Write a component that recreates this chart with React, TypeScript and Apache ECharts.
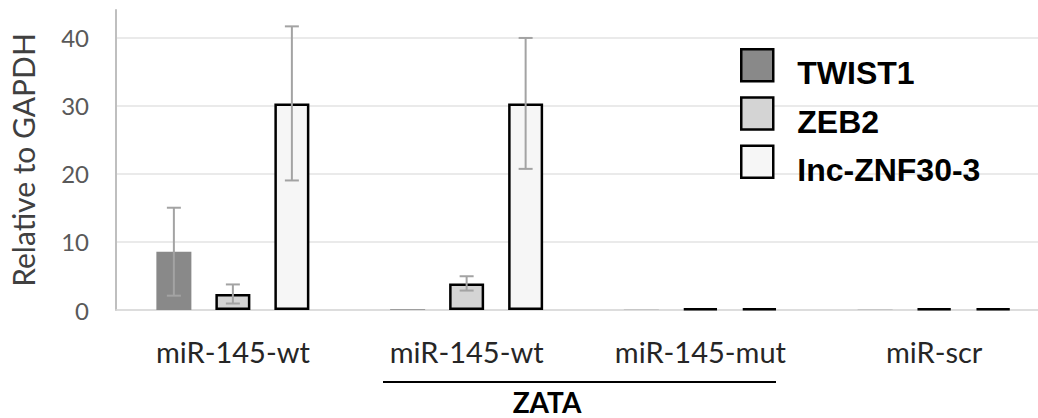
import React, { useEffect, useRef } from "react";
import * as echarts from "echarts";

const categories = ["miR-145-wt", "miR-145-wt", "miR-145-mut", "miR-scr"];
const seriesNames = ["TWIST1", "ZEB2", "Inc-ZNF30-3"];
const twist1 = [8.55, 0.1, 0.05, 0.03];
const twist1Err = [6.45, 0, 0, 0];
const zeb2 = [2.35, 3.9, 0.25, 0.25];
const zeb2Err = [1.4, 1.05, 0.1, 0.1];
const lnc = [30.3, 30.3, 0.25, 0.25];
const lncErr = [11.3, 9.6, 0.1, 0.1];
const yTicks = [0, 10, 20, 30, 40];
const groupLabel = "ZATA";

const BAR_W = 35;
const BAR_GAP = 24;
const fills = ["#898989", "#d4d4d4", "#f6f6f6"];

export default function App() {
  const ref = useRef<HTMLDivElement>(null);
  useEffect(() => {
    if (!ref.current) return;
    const chart = echarts.init(ref.current, null, { renderer: "svg" });
    const values = [twist1, zeb2, lnc];
    const errs = [twist1Err, zeb2Err, lncErr];

    const barSeries = seriesNames.map((name, i) => ({
      name,
      type: "bar",
      data: values[i],
      barWidth: BAR_W,
      barGap: `${(BAR_GAP / BAR_W) * 100}%`,
      itemStyle:
        i === 0
          ? { color: fills[i], borderWidth: 0 }
          : { color: fills[i], borderColor: "#000", borderWidth: 2.5 },
      emphasis: { disabled: true },
    }));

    const errSeries = seriesNames.map((name, i) => ({
      name: name + "-err",
      type: "custom",
      z: 5,
      data: values[i].map((v, k) => [k, v, errs[i][k]]),
      encode: { x: 0, y: 1 },
      renderItem: (params: any, api: any) => {
        const idx = api.value(0);
        const v = api.value(1);
        const e = api.value(2);
        if (!e || e < 0.5) return null;
        const off = (i - 1) * (BAR_W + BAR_GAP);
        const x = api.coord([idx, v])[0] + off;
        const yHi = api.coord([idx, v + e])[1];
        const yLo = api.coord([idx, v - e])[1];
        const cap = 7;
        const st = { stroke: "#a3a3a3", lineWidth: 2 };
        return {
          type: "group",
          children: [
            { type: "line", shape: { x1: x, y1: yHi, x2: x, y2: yLo }, style: st },
            { type: "line", shape: { x1: x - cap, y1: yHi, x2: x + cap, y2: yHi }, style: st },
            { type: "line", shape: { x1: x - cap, y1: yLo, x2: x + cap, y2: yLo }, style: st },
          ],
        };
      },
    }));

    chart.setOption({
      animation: false,
      grid: { left: 115, right: 9, top: 10, bottom: 108 },
      legend: {
        orient: "vertical",
        left: 735,
        top: 43,
        icon: "rect",
        itemWidth: 32,
        itemHeight: 32,
        itemGap: 7,
        selectedMode: false,
        data: seriesNames.map((n, i) => ({
          name: n,
          itemStyle: { color: fills[i], borderColor: "#000", borderWidth: 2.5 },
        })),
        formatter: "{a|{name}}",
        textStyle: {
          rich: {
            a: {
              fontFamily: "Liberation Sans",
              fontWeight: "bold",
              fontSize: 32,
              color: "#000",
              padding: [16, 0, 0, 19],
            },
          },
        },
      },
      xAxis: {
        type: "category",
        data: categories,
        axisTick: { show: false },
        axisLine: { lineStyle: { color: "#d9d9d9", width: 1.5 } },
        axisLabel: {
          fontFamily: "Lato",
          fontSize: 29,
          color: "#262626",
          margin: 27,
          interval: 0,
        },
      },
      yAxis: {
        type: "value",
        min: 0,
        max: 44,
        interval: 10,
        name: "Relative to GAPDH",
        nameLocation: "middle",
        nameGap: 78,
        nameTextStyle: { fontFamily: "Lato", fontSize: 30, color: "#404040" },
        axisLine: { show: true, lineStyle: { color: "#bfbfbf", width: 2 } },
        axisTick: { show: false },
        axisLabel: {
          fontFamily: "Lato",
          fontSize: 24,
          color: "#595959",
          margin: 27,
          showMaxLabel: false,
          formatter: (v: number) => (yTicks.includes(v) ? String(v) : ""),
        },
        splitLine: { show: true, showMaxLine: false, lineStyle: { color: "#e3e3e3", width: 1.5 } },
      },
      graphic: [
        { type: "line", shape: { x1: 383, y1: 382, x2: 776, y2: 382 }, style: { stroke: "#000", lineWidth: 2 } },
        {
          type: "text",
          x: 547,
          y: 402,
          style: {
            text: groupLabel,
            fontFamily: "Lato",
            fontWeight: "bold",
            fontSize: 28,
            fill: "#000",
            align: "center",
            verticalAlign: "middle",
          },
        },
      ],
      series: [...barSeries, ...errSeries],
    });
    return () => chart.dispose();
  }, []);
  return (
    <div style={{ position: "absolute", left: 0, top: 0, width: 1038, height: 418, overflow: "hidden", background: "#fff" }}>
      <div ref={ref} style={{ width: 1060, height: 418 }} />
    </div>
  );
}
